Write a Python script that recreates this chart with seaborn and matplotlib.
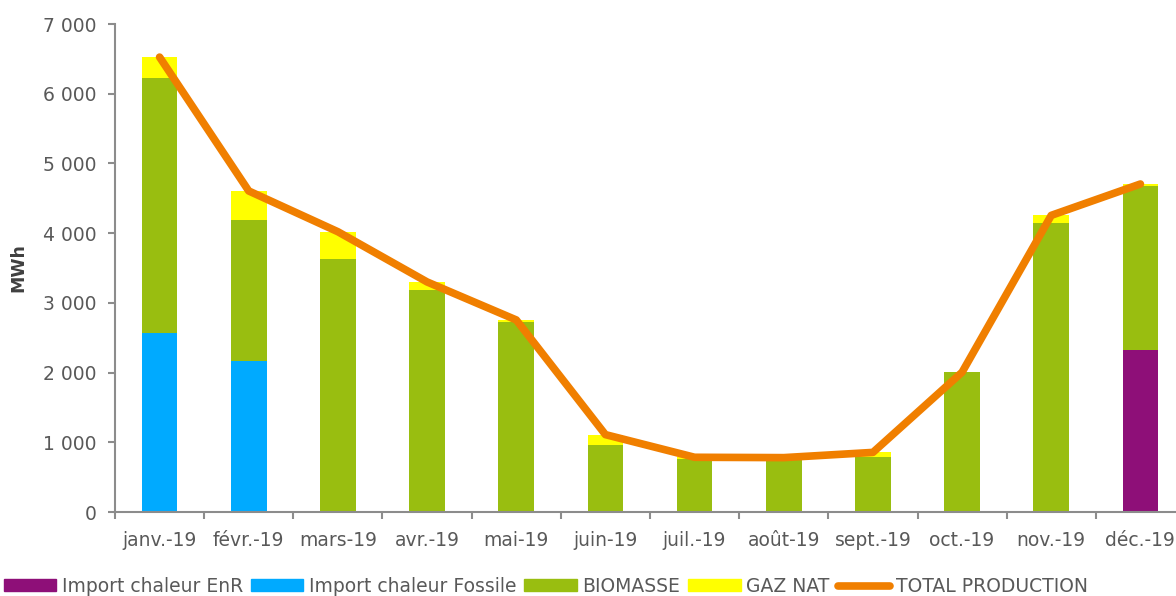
import numpy as np
import pandas as pd
import matplotlib
matplotlib.use("Agg")
import matplotlib.pyplot as plt
import seaborn as sns
from matplotlib.patches import Patch
from matplotlib.lines import Line2D
from matplotlib.ticker import FuncFormatter

# Data (MWh)
months = ['janv.-19', 'févr.-19', 'mars-19', 'avr.-19', 'mai-19', 'juin-19',
          'juil.-19', 'août-19', 'sept.-19', 'oct.-19', 'nov.-19', 'déc.-19']
import_enr = [0, 0, 0, 0, 0, 0, 0, 0, 0, 0, 0, 2330]
import_fossile = [2570, 2165, 0, 0, 0, 0, 0, 0, 0, 0, 0, 0]
biomasse = [3655, 2025, 3630, 3185, 2725, 960, 760, 760, 790, 2005, 4140, 2350]
gaz_nat = [300, 415, 390, 115, 30, 150, 25, 20, 65, 0, 115, 25]

c_enr = '#8E0F78'
c_fossile = '#00AAFF'
c_bio = '#99BE10'
c_gaz = '#FFFF00'
c_total = '#F07F00'
txt = '#595959'
spine = '#8C8C8C'

sns.set_theme(style="white")
plt.rcParams['font.family'] = ['DejaVu Sans']

df = pd.DataFrame({'mois': months, 'enr': import_enr, 'fossile': import_fossile,
                   'bio': biomasse, 'gaz': gaz_nat})
df['s1'] = df['enr']
df['s2'] = df['s1'] + df['fossile']
df['s3'] = df['s2'] + df['bio']
df['s4'] = df['s3'] + df['gaz']
df['total'] = df['s4']

fig = plt.figure(figsize=(11.76, 5.96), dpi=100)
ax = fig.add_axes([115 / 1176, 84 / 596, 1070 / 1176, 488 / 596])

# stacked bars drawn from the top layer down
for col, color in [('s4', c_gaz), ('s3', c_bio), ('s2', c_fossile), ('s1', c_enr)]:
    sns.barplot(data=df, x='mois', y=col, color=color, width=0.4,
                saturation=1, linewidth=0, ax=ax)

sns.lineplot(x=np.arange(len(months)), y=df['total'], color=c_total,
             linewidth=5.5, ax=ax)
for ln in ax.lines:
    ln.set_solid_capstyle('round')
    ln.set_solid_joinstyle('round')

ax.set_xlim(-0.5, len(months) - 0.5)
ax.set_ylim(0, 7000)
ax.set_yticks(np.arange(0, 7001, 1000))
ax.yaxis.set_major_formatter(FuncFormatter(lambda v, p: f"{int(v):,}".replace(',', ' ')))
ax.set_xticks(np.arange(len(months)))
ax.set_xticklabels(months)
ax.set_xticks(np.arange(-0.5, len(months), 1), minor=True)

ax.set_xlabel('')
ax.set_ylabel('MWh', fontsize=12.5, fontweight='bold', color='#404040')
ax.yaxis.set_label_coords(-0.082, 0.5)

for s in ['top', 'right']:
    ax.spines[s].set_visible(False)
for s in ['left', 'bottom']:
    ax.spines[s].set_color(spine)
    ax.spines[s].set_linewidth(1.5)

ax.tick_params(axis='y', which='major', left=True, length=5, width=1.5, color=spine,
               labelsize=13.5, labelcolor=txt, pad=8)
ax.tick_params(axis='x', which='major', bottom=False, length=0, labelsize=13.5,
               labelcolor=txt, pad=14)
ax.tick_params(axis='x', which='minor', bottom=True, length=5, width=1.5, color=spine)
ax.grid(False)

handles = [Patch(color=c_enr), Patch(color=c_fossile), Patch(color=c_bio),
           Patch(color=c_gaz), Line2D([0], [0], color=c_total, linewidth=5.5,
                                      solid_capstyle='round')]
labels = ['Import chaleur EnR', 'Import chaleur Fossile', 'BIOMASSE', 'GAZ NAT',
          'TOTAL PRODUCTION']
leg = fig.legend(handles, labels, loc='center left', bbox_to_anchor=(0.003, 0.016),
                 ncol=5, frameon=False, fontsize=13.5, handlelength=2.8,
                 handleheight=0.6, handletextpad=0.3, columnspacing=0.42,
                 borderpad=0, borderaxespad=0)
for t in leg.get_texts():
    t.set_color(txt)

fig.savefig('out.png', dpi=100)
